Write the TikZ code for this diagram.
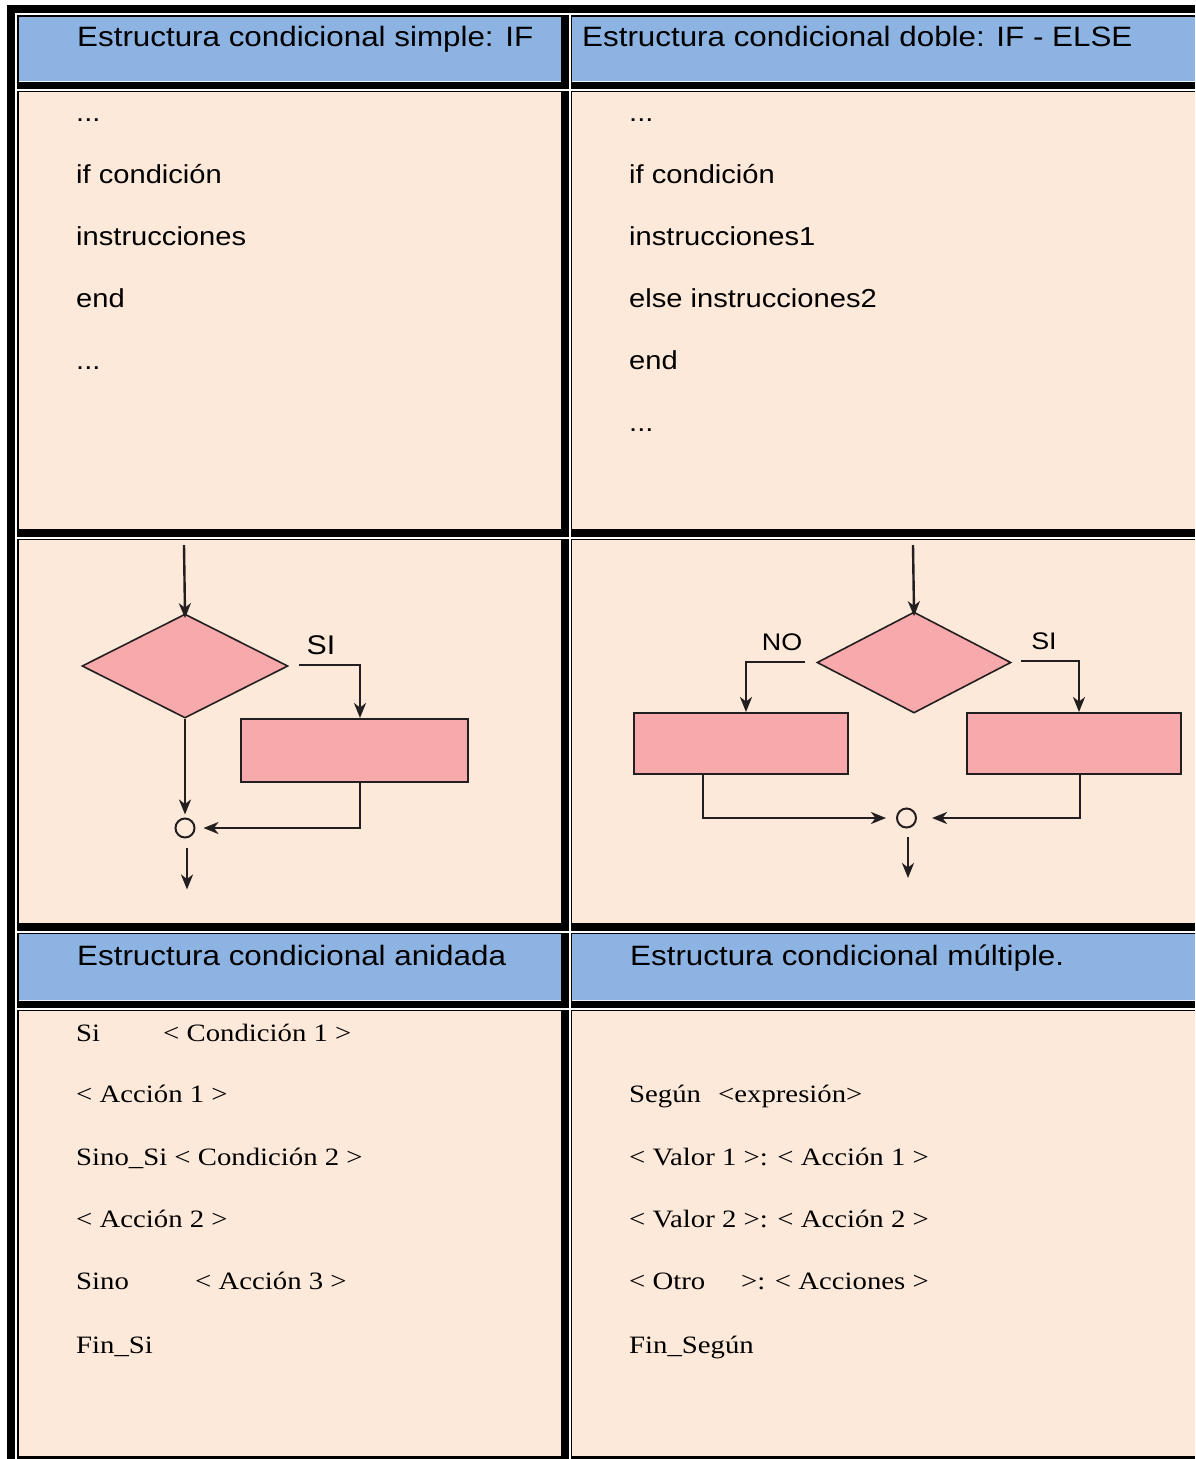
\documentclass[tikz,border=0pt]{standalone}
\usepackage{fontspec}
\setmainfont{Liberation Serif}[FakeStretch=1.15]
\setsansfont{Liberation Sans}[FakeStretch=1.12]
\usetikzlibrary{shapes.geometric,arrows.meta}

\definecolor{headblue}{RGB}{141,179,226}
\definecolor{cellpeach}{RGB}{253,233,217}
\definecolor{boxpink}{RGB}{247,169,171}
\definecolor{inkgray}{RGB}{35,31,32}

\tikzset{
  head/.style={anchor=base west, inner sep=0pt, font=\sffamily\fontsize{28}{34}\selectfont},
  code/.style={anchor=base west, inner sep=0pt, font=\sffamily\fontsize{26}{31}\selectfont},
  pseudo/.style={anchor=base west, inner sep=0pt, font=\rmfamily\fontsize{25}{30}\selectfont},
  flab/.style={inner sep=0pt, font=\sffamily\fontsize{27}{32}\selectfont},
  flabs/.style={inner sep=0pt, font=\sffamily\fontsize{24}{29}\selectfont},
  dia/.style={diamond, draw=inkgray, line width=1.6pt, fill=boxpink, inner sep=0pt},
  pbox/.style={rectangle, draw=inkgray, line width=2pt, fill=boxpink, inner sep=0pt},
  junc/.style={circle, draw=inkgray, line width=2pt, minimum size=19pt, inner sep=0pt},
  arr/.style={draw=inkgray, line width=2.4pt, -{Stealth[length=15pt,width=12pt,inset=4.5pt]}},
  rule/.style={white, line width=1.7pt},
}

\begin{document}
\begin{tikzpicture}[x=1pt,y=-1pt]
\useasboundingbox (0,0) rectangle (1195,1459);
\fill[white] (0,0) rectangle (1195,1459);

% table frame: black bands with thin white rules
\fill[black] (7,5) rectangle (1195,1459);
\draw[rule] (16,13) -- (16,1459);
\draw[rule] (569.8,13) -- (569.8,1459);
\foreach \yy in {14,90.2,537.8,931.8,1008.8}
  \draw[rule] (15,\yy) -- (1195,\yy);

% cells
\fill[headblue] (18.5,17) rectangle (561,81);
\fill[headblue] (572,17) rectangle (1195,81);
\fill[cellpeach] (18.5,92) rectangle (561,529);
\fill[cellpeach] (572,92) rectangle (1195,529);
\fill[cellpeach] (18.5,540) rectangle (561,923);
\fill[cellpeach] (572,540) rectangle (1195,923);
\fill[headblue] (18.5,934) rectangle (561,999.5);
\fill[headblue] (572,934) rectangle (1195,999.5);
\fill[cellpeach] (18.5,1011) rectangle (561,1456);
\fill[cellpeach] (572,1011) rectangle (1195,1456);
\foreach \yy in {81.5,1000}{
  \draw[white!85!headblue, line width=1pt] (18.5,\yy) -- (561,\yy);
  \draw[white!85!headblue, line width=1pt] (572,\yy) -- (1195,\yy);
}

% headers
\node[head] (h1) at (77,46) {Estructura condicional simple: IF};
\node[head] (h2) at (582,46) {Estructura condicional doble: IF - ELSE};
\node[head] (h3) at (77,965) {Estructura condicional anidada};
\node[head] (h4) at (630,965) {Estructura condicional múltiple.};

% IF code
\node[code] (a1) at (76,121) {...};
\node[code] (a2) at (76,183) {if condición};
\node[code] (a3) at (76,245) {instrucciones};
\node[code] (a4) at (76,307) {end};
\node[code] (a5) at (76,369) {...};

% IF-ELSE code
\node[code] (b1) at (629,121) {...};
\node[code] (b2) at (629,183) {if condición};
\node[code] (b3) at (629,245) {instrucciones1};
\node[code] (b4) at (629,307) {else instrucciones2};
\node[code] (b5) at (629,369) {end};
\node[code] (b6) at (629,431) {...};

% nested pseudocode
\node[pseudo] (n1) at (76,1041) {\makebox[87pt][l]{Si}< Condición 1 >};
\node[pseudo] (n2) at (76,1102) {< Acción 1 >};
\node[pseudo] (n3) at (76,1165) {Sino\_Si < Condición 2 >};
\node[pseudo] (n4) at (76,1227) {< Acción 2 >};
\node[pseudo] (n5) at (76,1289) {\makebox[119pt][l]{Sino}< Acción 3 >};
\node[pseudo] (n6) at (76,1353) {Fin\_Si};

% multiple-choice pseudocode
\node[pseudo] (m1) at (629,1102) {\makebox[89pt][l]{Según}<expresión>};
\node[pseudo] (m2) at (629,1165) {< Valor 1 >: < Acción 1 >};
\node[pseudo] (m3) at (629,1227) {< Valor 2 >: < Acción 2 >};
\node[pseudo] (m4) at (629,1289) {\makebox[112pt][l]{< Otro}>: < Acciones >};
\node[pseudo] (m5) at (629,1353) {Fin\_Según};

% flowchart: simple IF
\node[dia, minimum width=206pt, minimum height=104pt] (d1) at (185,666) {};
\node[pbox, minimum width=227pt, minimum height=63pt] (r1) at (354.5,750.5) {};
\node[junc] (c1) at (185,828) {};
\node[flab] (lsi1) at (321,645) {SI};
\coordinate (in1) at (184,545);
\coordinate (si1) at (299,665);
\draw[arr, shorten >=-5pt] (in1) -- (d1.north);
\draw[arr, shorten >=3pt] (d1.south) -- (c1.north);
\draw[arr] (si1) -| ([xshift=5.5pt]r1.north);
\draw[arr, shorten >=8pt] ([xshift=5.5pt]r1.south) |- (c1.east);
\draw[arr] ([xshift=2pt,yshift=-9pt]c1.south) -- ++(0,42);

% flowchart: IF-ELSE
\node[dia, minimum width=194pt, minimum height=101pt] (d2) at (914,662.5) {};
\node[pbox, minimum width=214pt, minimum height=61pt] (r2) at (741,743.5) {};
\node[pbox, minimum width=214pt, minimum height=61pt] (r3) at (1074,743.5) {};
\node[junc] (c2) at (906.5,818) {};
\node[flabs] (lno) at (782,642) {NO};
\node[flabs] (lsi2) at (1044,641) {SI};
\coordinate (in2) at (913,545);
\coordinate (no2) at (805,662);
\coordinate (si2) at (1021,661);
\draw[arr, shorten >=-5pt] (in2) -- (d2.north);
\draw[arr] (no2) -| ([xshift=5pt]r2.north);
\draw[arr] (si2) -| ([xshift=5pt]r3.north);
\draw[arr, shorten >=10pt] ([xshift=-38pt]r2.south) |- (c2.west);
\draw[arr, shorten >=15pt] ([xshift=6pt]r3.south) |- (c2.east);
\draw[arr] ([xshift=1.5pt,yshift=-8.5pt]c2.south) -- ++(0,41);
\end{tikzpicture}
\end{document}
